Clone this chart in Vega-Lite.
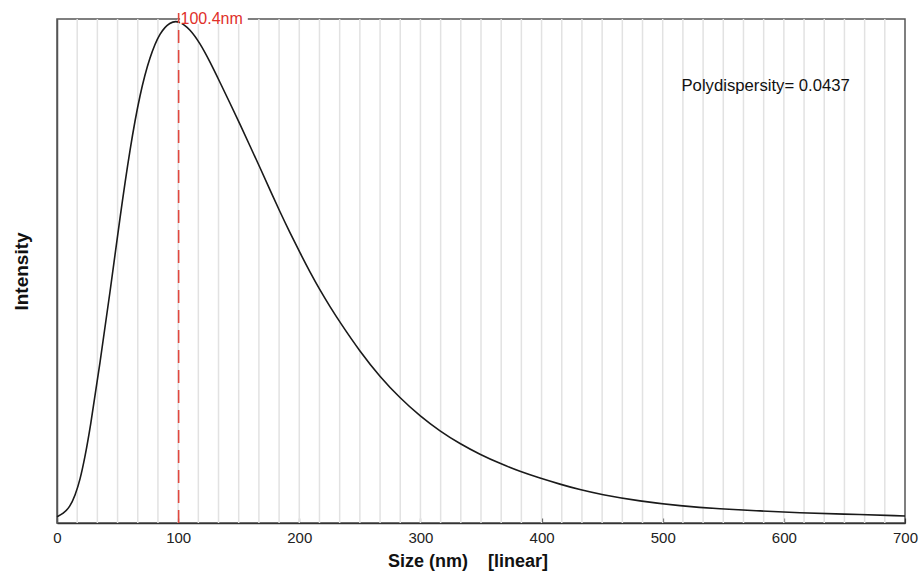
{
  "$schema": "https://vega.github.io/schema/vega-lite/v6.json",
  "width": 848,
  "height": 504,
  "autosize": {"type": "none"},
  "padding": {"left": 57, "top": 19, "right": 14, "bottom": 50},
  "background": "white",
  "config": {
    "view": {"stroke": "#555555", "strokeWidth": 1.5},
    "font": "Liberation Sans"
  },
  "datasets": {
    "grid": [
      {"g": 16.67}, {"g": 33.33}, {"g": 50}, {"g": 66.67}, {"g": 83.33}, {"g": 100},
      {"g": 116.67}, {"g": 133.33}, {"g": 150}, {"g": 166.67}, {"g": 183.33}, {"g": 200},
      {"g": 216.67}, {"g": 233.33}, {"g": 250}, {"g": 266.67}, {"g": 283.33}, {"g": 300},
      {"g": 316.67}, {"g": 333.33}, {"g": 350}, {"g": 366.67}, {"g": 383.33}, {"g": 400},
      {"g": 416.67}, {"g": 433.33}, {"g": 450}, {"g": 466.67}, {"g": 483.33}, {"g": 500},
      {"g": 516.67}, {"g": 533.33}, {"g": 550}, {"g": 566.67}, {"g": 583.33}, {"g": 600},
      {"g": 616.67}, {"g": 633.33}, {"g": 650}, {"g": 666.67}, {"g": 683.33}
    ],
    "curve": [
      {"size": 0, "intensity": 0.0125},
      {"size": 5, "intensity": 0.018},
      {"size": 10.7, "intensity": 0.032},
      {"size": 15, "intensity": 0.055},
      {"size": 19.0, "intensity": 0.085},
      {"size": 23, "intensity": 0.13},
      {"size": 27.2, "intensity": 0.185},
      {"size": 35.5, "intensity": 0.317},
      {"size": 43.8, "intensity": 0.458},
      {"size": 52.0, "intensity": 0.607},
      {"size": 60.3, "intensity": 0.744},
      {"size": 68.5, "intensity": 0.853},
      {"size": 76.8, "intensity": 0.927},
      {"size": 85.0, "intensity": 0.974},
      {"size": 93.3, "intensity": 0.994},
      {"size": 100.4, "intensity": 0.997},
      {"size": 109.8, "intensity": 0.980},
      {"size": 118.0, "intensity": 0.952},
      {"size": 126.3, "intensity": 0.915},
      {"size": 134.6, "intensity": 0.874},
      {"size": 142.8, "intensity": 0.833},
      {"size": 151.1, "intensity": 0.791},
      {"size": 159.3, "intensity": 0.748},
      {"size": 167.6, "intensity": 0.705},
      {"size": 175.8, "intensity": 0.661},
      {"size": 184.1, "intensity": 0.617},
      {"size": 192.3, "intensity": 0.576},
      {"size": 200.6, "intensity": 0.536},
      {"size": 208.8, "intensity": 0.498},
      {"size": 217.1, "intensity": 0.462},
      {"size": 225.4, "intensity": 0.429},
      {"size": 233.6, "intensity": 0.398},
      {"size": 250.1, "intensity": 0.340},
      {"size": 266.6, "intensity": 0.290},
      {"size": 283.1, "intensity": 0.248},
      {"size": 299.7, "intensity": 0.212},
      {"size": 316.2, "intensity": 0.182},
      {"size": 332.7, "intensity": 0.157},
      {"size": 349.2, "intensity": 0.136},
      {"size": 365.7, "intensity": 0.118},
      {"size": 382.2, "intensity": 0.102},
      {"size": 398.7, "intensity": 0.089},
      {"size": 415.2, "intensity": 0.077},
      {"size": 431.7, "intensity": 0.066},
      {"size": 448.2, "intensity": 0.057},
      {"size": 481.3, "intensity": 0.043},
      {"size": 514.3, "intensity": 0.034},
      {"size": 547.3, "intensity": 0.028},
      {"size": 580.3, "intensity": 0.024},
      {"size": 613.3, "intensity": 0.020},
      {"size": 646.3, "intensity": 0.018},
      {"size": 700, "intensity": 0.014}
    ],
    "peak": [{"size": 100.4, "y0": 0, "y1": 1.012, "label": "100.4nm", "lx": 102.0, "ly": 1.0, "bx0": 101.6, "bx1": 157.5, "by0": 0.99, "by1": 1.02}],
    "note": [{"x": 515.5, "y": 0.867, "text": "Polydispersity= 0.0437"}]
  },
  "layer": [
    {
      "data": {"name": "grid"},
      "mark": {"type": "rule", "color": "#e2e2e2", "strokeWidth": 1.5},
      "encoding": {
        "x": {
          "field": "g", "type": "quantitative",
          "scale": {"domain": [0, 700], "nice": false, "zero": false},
          "axis": {
            "values": [0, 100, 200, 300, 400, 500, 600, 700],
            "title": "Size (nm) \u00a0\u00a0\u00a0[linear]",
            "titleFont": "Liberation Sans", "titleFontSize": 18, "titleFontWeight": "bold", "titleColor": "#111111",
            "titlePadding": 7, "titleX": 410.5, "titleAlign": "center",
            "labelFont": "Liberation Sans", "labelFontSize": 15, "labelColor": "#222222", "labelPadding": 12,
            "labelFlush": false,
            "domainColor": "#333333", "domainWidth": 1.5,
            "tickSize": -5, "tickColor": "#333333", "tickWidth": 1.2,
            "grid": false
          }
        }
      }
    },
    {
      "data": {"name": "curve"},
      "mark": {"type": "line", "color": "#1a1a1a", "strokeWidth": 1.6, "interpolate": "basis"},
      "encoding": {
        "x": {"field": "size", "type": "quantitative", "title": "Size (nm) \u00a0\u00a0\u00a0[linear]"},
        "y": {
          "field": "intensity", "type": "quantitative",
          "scale": {"domain": [0, 1], "nice": false, "zero": false},
          "axis": {
            "title": "Intensity", "labels": false, "ticks": false, "grid": false,
            "titleFont": "Liberation Sans", "titleFontSize": 19, "titleFontWeight": "bold", "titleColor": "#111111",
            "titlePadding": 26,
            "domainColor": "#555555", "domainWidth": 1.5
          }
        }
      }
    },
    {
      "data": {"name": "peak"},
      "mark": {"type": "rule", "color": "#e0483e", "strokeWidth": 1.6, "strokeDash": [13, 7]},
      "encoding": {
        "x": {"field": "size", "type": "quantitative", "title": "Size (nm) \u00a0\u00a0\u00a0[linear]"},
        "y": {"field": "y0", "type": "quantitative", "title": "Intensity"},
        "y2": {"field": "y1"}
      }
    },
    {
      "data": {"name": "peak"},
      "mark": {"type": "rect", "color": "white"},
      "encoding": {
        "x": {"field": "bx0", "type": "quantitative", "title": "Size (nm) \u00a0\u00a0\u00a0[linear]"},
        "x2": {"field": "bx1"},
        "y": {"field": "by0", "type": "quantitative", "title": "Intensity"},
        "y2": {"field": "by1"}
      }
    },
    {
      "data": {"name": "peak"},
      "mark": {"type": "text", "color": "#e0302a", "fontSize": 16, "align": "left", "baseline": "middle", "font": "Liberation Sans"},
      "encoding": {
        "x": {"field": "lx", "type": "quantitative", "title": "Size (nm) \u00a0\u00a0\u00a0[linear]"},
        "y": {"field": "ly", "type": "quantitative", "title": "Intensity"},
        "text": {"field": "label"}
      }
    },
    {
      "data": {"name": "note"},
      "mark": {"type": "text", "color": "#111111", "fontSize": 16.7, "align": "left", "baseline": "middle", "font": "Liberation Sans"},
      "encoding": {
        "x": {"field": "x", "type": "quantitative", "title": "Size (nm) \u00a0\u00a0\u00a0[linear]"},
        "y": {"field": "y", "type": "quantitative", "title": "Intensity"},
        "text": {"field": "text"}
      }
    }
  ]
}
